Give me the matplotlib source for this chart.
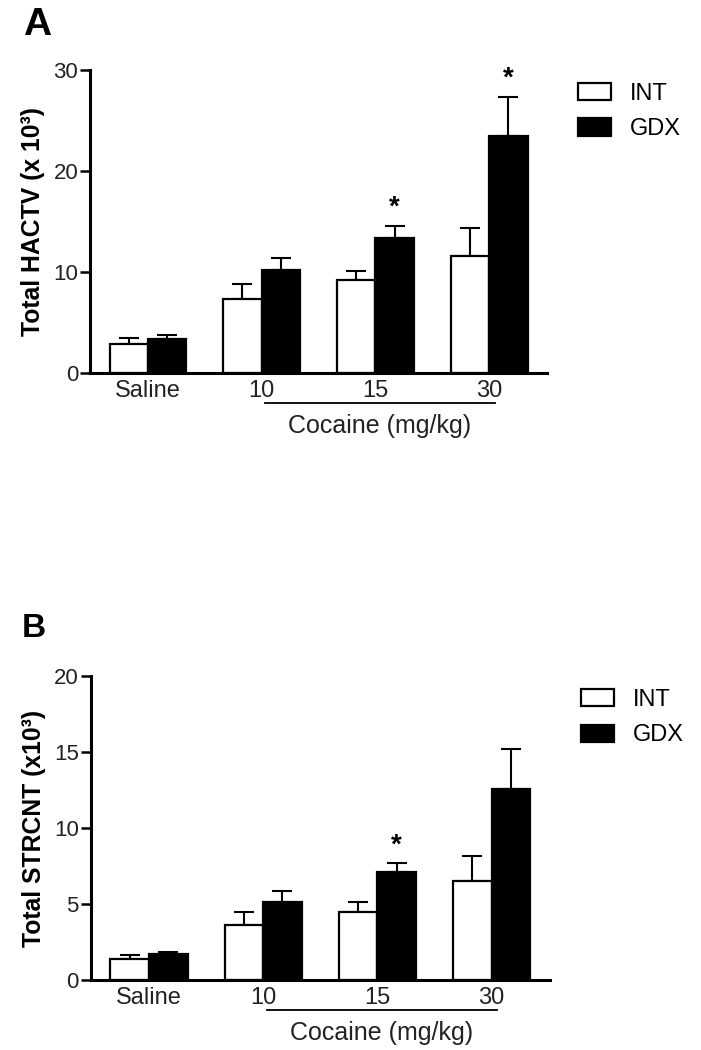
import numpy as np
import matplotlib
matplotlib.use("Agg")
import matplotlib.pyplot as plt
from matplotlib.patches import Patch
import matplotlib.transforms as mtransforms

# Data (x10^3)
groups = ["Saline", "10", "15", "30"]
series = ["INT", "GDX"]

hactv_int = [2.85, 7.35, 9.2, 11.6]
hactv_int_sem = [0.6, 1.5, 0.9, 2.8]
hactv_gdx = [3.35, 10.15, 13.4, 23.5]
hactv_gdx_sem = [0.45, 1.2, 1.15, 3.8]
hactv_sig = [False, False, True, True]

strcnt_int = [1.36, 3.62, 4.5, 6.5]
strcnt_int_sem = [0.28, 0.87, 0.62, 1.65]
strcnt_gdx = [1.69, 5.15, 7.13, 12.55]
strcnt_gdx_sem = [0.17, 0.71, 0.55, 2.65]
strcnt_sig = [False, False, True, False]

plt.rcParams["font.family"] = ["Liberation Sans", "DejaVu Sans"]

fig = plt.figure(figsize=(7.01, 10.5), dpi=100)


def draw_panel(ax, int_vals, int_sem, gdx_vals, gdx_sem, sig, ymax, ystep, ylabel):
    x = np.arange(len(groups))
    w = 0.338
    ax.bar(x - w / 2, int_vals, w, color="white", edgecolor="black", linewidth=1.6, zorder=2)
    ax.bar(x + w / 2, gdx_vals, w, color="black", edgecolor="black", linewidth=1.6, zorder=2)
    ax.errorbar(x - w / 2, int_vals, yerr=[np.zeros(len(x)), int_sem], fmt="none",
                ecolor="black", elinewidth=1.5, capsize=7, capthick=1.5, zorder=1)
    ax.errorbar(x + w / 2, gdx_vals, yerr=[np.zeros(len(x)), gdx_sem], fmt="none",
                ecolor="black", elinewidth=1.5, capsize=7, capthick=1.5, zorder=1)
    for i in range(len(x)):
        if sig[i]:
            ax.annotate("*", (x[i] + w / 2, gdx_vals[i] + gdx_sem[i]),
                        xytext=(0, 8), textcoords="offset points",
                        ha="center", va="baseline", fontsize=20, fontweight="bold")

    ax.set_xlim(-0.51, 3.51)
    ax.set_ylim(0, ymax)
    ax.set_yticks(np.arange(0, ymax + 1, ystep))
    ax.set_xticks(x)
    ax.set_xticklabels(groups)
    ax.spines["top"].set_visible(False)
    ax.spines["right"].set_visible(False)
    ax.spines["left"].set_linewidth(2.2)
    ax.spines["bottom"].set_linewidth(2.2)
    ax.tick_params(axis="y", length=7, width=1.8, pad=1.5, labelsize=16, labelcolor="#222222")
    ax.tick_params(axis="x", length=0, pad=5, labelsize=17, labelcolor="#222222")
    ax.set_ylabel(ylabel, fontsize=17.8, fontweight="bold", labelpad=6)

    # cocaine bracket
    trans = mtransforms.blended_transform_factory(ax.transData, ax.transAxes)
    ax.plot([x[1] + 0.03, x[3] + 0.05], [-0.10, -0.10], color="black", linewidth=1.3,
            transform=trans, clip_on=False)
    ax.text((x[1] + x[3]) / 2 + 0.04, -0.175, "Cocaine (mg/kg)", transform=trans,
            ha="center", va="center", fontsize=18, color="#222222")

    handles = [Patch(facecolor="white", edgecolor="black", linewidth=1.6, label=series[0]),
               Patch(facecolor="black", edgecolor="black", linewidth=1.6, label=series[1])]
    ax.legend(handles=handles, loc="upper left", bbox_to_anchor=(1.068, 0.958), frameon=False,
              fontsize=17, handlelength=1.4, handleheight=0.75, handletextpad=0.8,
              labelspacing=0.58, borderaxespad=0, borderpad=0)


axA = fig.add_axes([0.1284, 0.6448, 0.652, 0.2886])
draw_panel(axA, hactv_int, hactv_int_sem, hactv_gdx, hactv_gdx_sem, hactv_sig,
           30, 10, "Total HACTV (x 10³)")
axB = fig.add_axes([0.1294, 0.0667, 0.655, 0.2895])
draw_panel(axB, strcnt_int, strcnt_int_sem, strcnt_gdx, strcnt_gdx_sem, strcnt_sig,
           20, 5, "Total STRCNT (x10³)")

fig.text(23 / 701, 1 - 7 / 1050, "A", fontsize=28, fontweight="bold", ha="left", va="top")
fig.text(22 / 701, 1 - 613 / 1050, "B", fontsize=24, fontweight="bold", ha="left", va="top")

fig.savefig("out.png", dpi=100)
